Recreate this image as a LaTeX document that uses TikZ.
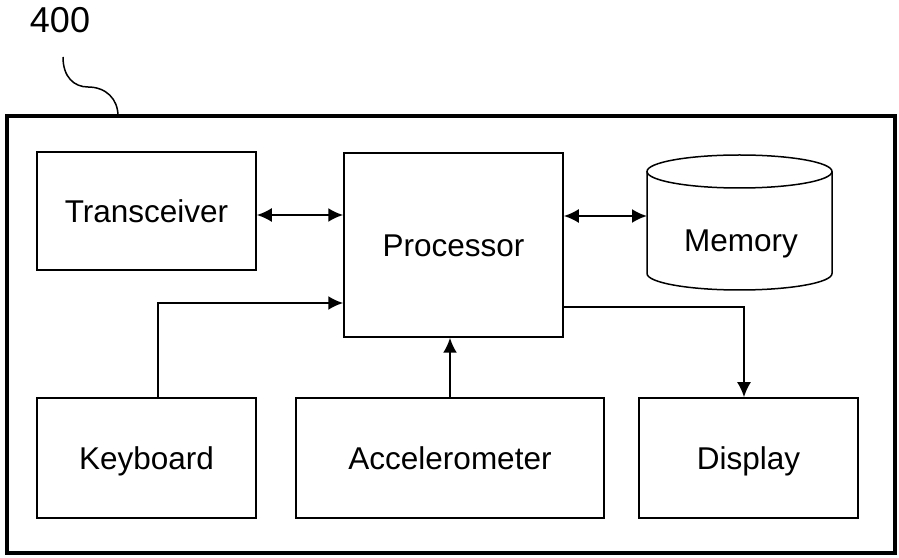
\documentclass[tikz,border=0pt]{standalone}
\usepackage{fontspec}
\setmainfont{Liberation Sans}
\usepackage{tikz}
\usetikzlibrary{arrows.meta}
\usetikzlibrary{calc,shapes}

\begin{document}
\begin{tikzpicture}[x=1pt,y=1pt,
	bloc/.style={draw,line width=1.5pt,minimum width=219pt,inner sep=0pt,text height=26pt,text depth=3.4pt,font=\fontsize{31.5}{36}\selectfont},
	fl/.style={line width=2.2pt,>={Latex[length=15pt,width=14pt]}}]
% Cadre
\useasboundingbox (0,0) rectangle (899,557);
\draw [line width=4pt] (7,4) rectangle (895,441);
\node (num) at (60,537) {\fontsize{36}{40}\selectfont 400};
\draw [line width=1.5pt] (63,500) .. controls (63,480) and (74,470) .. (88,470) .. controls (106,470) and (118,458) .. (118,441);
% Blocs
\node [bloc,minimum height=118pt] (trans) at (146.5,346) {Transceiver};
\node [bloc,minimum height=184pt] (proc) at (453.5,312) {Processor};
\node [bloc,minimum height=120pt] (keyb) at (146.5,99) {Keyboard};
\node [bloc,minimum height=120pt,minimum width=308pt] (accel) at (450,99) {Accelerometer};
\node [bloc,minimum height=120pt] (disp) at (748.5,99) {Display};
% Memoire
\node [minimum width=185pt,inner sep=0pt,text height=26pt,text depth=3.4pt,font=\fontsize{31.5}{36}\selectfont] (mem) at (741,317) {Memory};
\draw [line width=1.5pt] (739.5,385.5) ellipse [x radius=92.5,y radius=16.5];
\draw [line width=1.5pt] (647,385.5) -- (647,283.5) arc [start angle=180,end angle=360,x radius=92.5,y radius=16.5] -- (832,385.5);
% Flèches
\draw [fl,<->] ([yshift=-4pt]trans.east) -- ([yshift=-4pt]trans.east -| proc.west);
\draw [fl,<->] ([yshift=29pt]proc.east) -- ([yshift=24pt]mem.west -| 647,0);
\draw [fl,->] ([xshift=11.5pt]keyb.north) |- ([yshift=-58pt]proc.west);
\draw [fl,->] (accel.north) -- (accel.north |- proc.south);
\draw [fl,->] ([yshift=-62pt]proc.east) -| ([xshift=-4.5pt]disp.north);
\end{tikzpicture}
\end{document}
